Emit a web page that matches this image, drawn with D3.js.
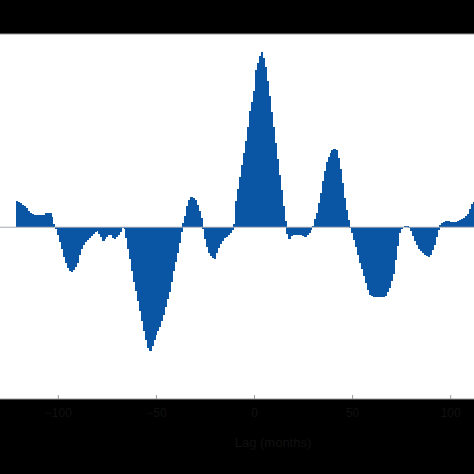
<!DOCTYPE html>
<html>
<head>
<meta charset="utf-8">
<script src="https://cdn.jsdelivr.net/npm/d3@7"></script>
<style>
  html, body { margin: 0; padding: 0; background: #000; }
  svg { display: block; }
  .tick text { font-family: "Liberation Sans", Arial, sans-serif; }
</style>
</head>
<body>
<div id="chart"></div>
<script>
// lags shown in the picture (months)
const lags = d3.range(-121, 113)

// correlation value for each lag
const corr = [
  0.121, 0.116, 0.112, 0.105, 0.098, 0.090, 0.077, 0.066, 0.062, 0.059,
  0.056, 0.057, 0.059, 0.055, 0.056, 0.064, 0.067, 0.067, 0.047, 0.016,
  -0.007, -0.036, -0.070, -0.102, -0.137, -0.168, -0.191, -0.206, -0.207, -0.200,
  -0.186, -0.165, -0.130, -0.102, -0.084, -0.070, -0.058, -0.049, -0.039, -0.030,
  -0.023, -0.019, -0.030, -0.047, -0.063, -0.056, -0.045, -0.037, -0.037, -0.051,
  -0.054, -0.045, -0.036, -0.023, -0.005, -0.009, -0.051, -0.102, -0.149, -0.205,
  -0.254, -0.298, -0.342, -0.391, -0.435, -0.482, -0.526, -0.564, -0.578, -0.554,
  -0.526, -0.503, -0.484, -0.466, -0.438, -0.410, -0.373, -0.335, -0.300, -0.256,
  -0.205, -0.163, -0.121, -0.075, -0.023, 0.019, 0.054, 0.098, 0.126, 0.140,
  0.135, 0.126, 0.102, 0.075, 0.041, -0.009, -0.053, -0.091, -0.119, -0.133,
  -0.141, -0.146, -0.121, -0.095, -0.077, -0.063, -0.051, -0.044, -0.037, -0.026,
  -0.014, 0.014, 0.121, 0.179, 0.235, 0.289, 0.345, 0.401, 0.466, 0.540,
  0.582, 0.633, 0.731, 0.764, 0.799, 0.814, 0.787, 0.745, 0.680, 0.610,
  0.536, 0.466, 0.391, 0.317, 0.245, 0.172, 0.098, 0.028, -0.033, -0.056,
  -0.040, -0.035, -0.034, -0.036, -0.036, -0.034, -0.040, -0.045, -0.035, -0.026,
  -0.012, 0.007, 0.037, 0.065, 0.112, 0.161, 0.217, 0.261, 0.303, 0.326,
  0.347, 0.361, 0.366, 0.360, 0.321, 0.270, 0.205, 0.135, 0.079, 0.033,
  -0.002, -0.028, -0.061, -0.093, -0.130, -0.168, -0.196, -0.228, -0.261, -0.291,
  -0.314, -0.321, -0.326, -0.326, -0.327, -0.326, -0.325, -0.325, -0.319, -0.300,
  -0.284, -0.252, -0.216, -0.154, -0.088, -0.026, -0.006, 0.002, 0.007, 0.008,
  -0.002, -0.019, -0.042, -0.065, -0.085, -0.100, -0.112, -0.121, -0.128, -0.135,
  -0.137, -0.128, -0.107, -0.084, -0.047, -0.012, 0.009, 0.019, 0.025, 0.029,
  0.028, 0.026, 0.025, 0.025, 0.025, 0.028, 0.033, 0.040, 0.045, 0.051,
  0.061, 0.084, 0.110, 0.118
]

const xTicks = [-100, -50, 0, 50, 100]
const xLabel = "Lag (months)"

const W = 474, H = 474
const plot = {left: -2, right: 520, top: 34, bottom: 399}

const svg = d3.select("#chart")
    .append("svg")
    .attr("width", W)
    .attr("height", H)

svg.append("rect")
    .attr("width", W)
    .attr("height", H)
    .attr("fill", "#000")

// plot area, runs past the picture edges on both sides
svg.append("rect")
    .attr("x", plot.left)
    .attr("y", plot.top)
    .attr("width", plot.right - plot.left)
    .attr("height", plot.bottom - plot.top)
    .attr("fill", "#fff")
    .attr("stroke", "#9a9a9a")
    .attr("stroke-width", 1)

const x = d3.scaleLinear()
    .domain([-100, 100])
    .range([57.8, 450.2])
const y = d3.scaleLinear()
    .domain([-0.8, 0.9])
    .range([plot.bottom, plot.top])

const bw = x(1) - x(0)

svg.append("g")
    .attr("shape-rendering", "crispEdges")
    .selectAll("rect")
    .data(lags)
    .join("rect")
    .attr("x", (d) => x(d) - bw / 2)
    .attr("width", bw + 0.6)
    .attr("y", (d, i) => Math.min(y(corr[i]), y(0)))
    .attr("height", (d, i) => Math.abs(y(corr[i]) - y(0)))
    .attr("fill", "#0b55a5")

// zero line
svg.append("line")
    .attr("x1", plot.left)
    .attr("x2", plot.right)
    .attr("y1", y(0))
    .attr("y2", y(0))
    .attr("stroke", "#a7adb5")
    .attr("stroke-width", 1)

const ax = svg.append("g")
    .attr("class", "tick")
    .attr("transform", "translate(0," + plot.bottom + ")")
    .call(d3.axisBottom(x)
        .tickValues(xTicks)
        .tickSizeInner(-4)
        .tickSizeOuter(0)
        .tickPadding(9)
    )
ax.select(".domain").remove()
ax.selectAll("line").attr("stroke", "#9a9a9a")
ax.selectAll("text")
    .attr("fill", "#101010")
    .style("font-size", "12px")

svg.append("text")
    .text(xLabel)
    .attr("x", 273)
    .attr("y", 447)
    .attr("text-anchor", "middle")
    .attr("fill", "#101010")
    .style("font-family", "Liberation Sans, Arial, sans-serif")
    .style("font-size", "13px")
</script>
</body>
</html>
